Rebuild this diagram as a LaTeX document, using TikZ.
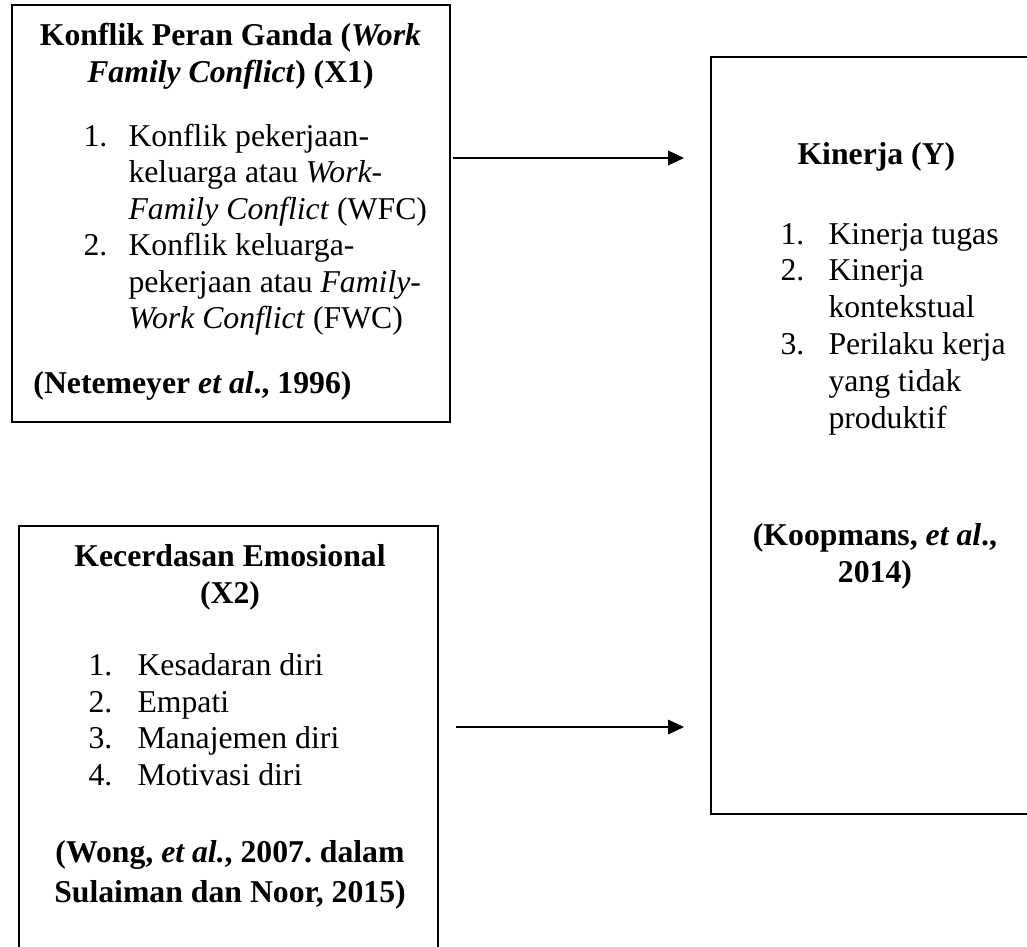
\documentclass[tikz,border=0pt]{standalone}
\usepackage{fontspec}
\setmainfont{Liberation Serif}
\usetikzlibrary{arrows.meta,fit}
\frenchspacing

\tikzset{every picture/.style={line width=0.75pt}}
\tikzset{
  varbox/.style={draw, line width=1pt, inner sep=0pt},
  txt/.style={inner sep=0pt, font=\fontsize{23.8pt}{27.3pt}\selectfont},
  link/.style={line width=1pt, -{Triangle[length=12pt,width=11pt]}}
}

\begin{document}
\begin{tikzpicture}[x=0.75pt,y=0.75pt,yscale=-1,xscale=1]
\useasboundingbox (0,0) rectangle (1027,946);

% boxes
\node (x1) [varbox, fit={(12,5) (450,422)}] {};
\node (x2) [varbox, fit={(19,526) (438,952)}] {};
\node (y) [varbox, fit={(711,57) (1040,814)}] {};

% X1 (multi-line nodes sit on their last baseline)
\node (x1title) [txt, anchor=base, align=center] at (230.5,82) {\bfseries Konflik Peran Ganda (\textit{Work}\\\bfseries\textit{Family Conflict}) (X1)};
\node (x1n) [txt, anchor=base west, align=left] at (83,328.5) {1.\\~\\~\\2.\\~\\~};
\node (x1items) [txt, anchor=base west, align=left] at (128,328.5) {Konflik pekerjaan-\\keluarga atau \textit{Work-}\\\textit{Family Conflict} (WFC)\\Konflik keluarga-\\pekerjaan atau \textit{Family-}\\\textit{Work Conflict} (FWC)};
\node (x1cite) [txt, anchor=base west] at (33,393) {\bfseries(Netemeyer \textit{et al}., 1996)};

% X2
\node (x2title) [txt, anchor=base, align=center] at (230,603) {\bfseries Kecerdasan Emosional\\\bfseries(X2)};
\node (x2n) [txt, anchor=base west, align=left] at (88,785) {1.\\2.\\3.\\4.};
\node (x2items) [txt, anchor=base west, align=left] at (137,785) {Kesadaran diri\\Empati\\Manajemen diri\\Motivasi diri};
\node (x2cite) [txt, anchor=base, align=center, font=\fontsize{23.8pt}{30pt}\selectfont] at (230,902) {\bfseries(Wong, \textit{et al.}, 2007. dalam\\\bfseries Sulaiman dan Noor, 2015)};

% Y
\node (ytitle) [txt, anchor=base west] at (797,164) {\bfseries Kinerja (Y)};
\node (yn) [txt, anchor=base west, align=left, font=\fontsize{23.8pt}{27.6pt}\selectfont] at (780,428) {1.\\2.\\~\\3.\\~\\~};
\node (yitems) [txt, anchor=base west, align=left, font=\fontsize{23.8pt}{27.6pt}\selectfont] at (828,428) {Kinerja tugas\\Kinerja\\kontekstual\\Perilaku kerja\\yang tidak\\produktif};
\node (ycite) [txt, anchor=base, align=center] at (875,582) {\bfseries(Koopmans, \textit{et al}.,\\\bfseries 2014)};

% arrows
\coordinate (a1) at (453,158);
\coordinate (b1) at (684,158);
\coordinate (a2) at (456,727);
\coordinate (b2) at (684,727);
\draw [link] (a1) -- (b1);
\draw [link] (a2) -- (b2);

\end{tikzpicture}
\end{document}
